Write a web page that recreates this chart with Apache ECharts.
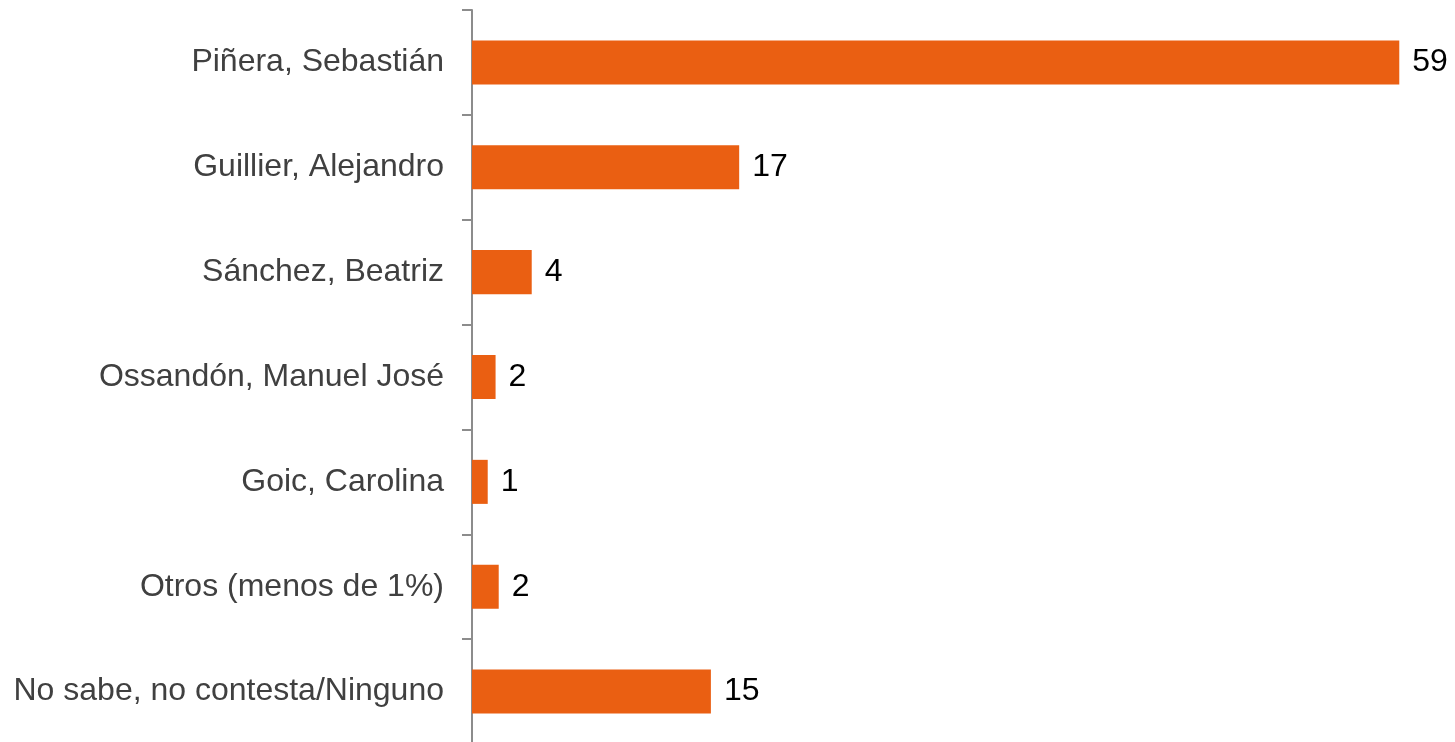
<!DOCTYPE html>
<html>
<head>
<meta charset="utf-8">
<script src="https://cdn.jsdelivr.net/npm/echarts@6/dist/echarts.min.js"></script>
<style>html,body{margin:0;padding:0;background:#fff;overflow:hidden;}#c{width:1455px;height:748px;}</style>
</head>
<body>
<div id="c"></div>
<script>
const categories = ["Piñera, Sebastián", "Guillier, Alejandro", "Sánchez, Beatriz", "Ossandón, Manuel José", "Goic, Carolina", "Otros (menos de 1%)", "No sabe, no contesta/Ninguno"];
const values = [59, 17, 3.8, 1.5, 1.0, 1.7, 15.2];
const labels = ["59", "17", "4", "2", "1", "2", "15"];

const chart = echarts.init(document.getElementById('c'));
chart.setOption({
  animation: false,
  grid: { left: 472, top: 10, width: 943, height: 734 },
  xAxis: { type: 'value', min: 0, max: 60, show: false },
  yAxis: {
    type: 'category', data: categories, inverse: true,
    axisLine: { show: true, lineStyle: { color: '#8c8c8c', width: 2 } },
    axisTick: { show: true, length: 10, lineStyle: { color: '#8c8c8c', width: 2 } },
    axisLabel: { color: '#404040', fontSize: 32, fontFamily: 'Liberation Sans, Arial, sans-serif', margin: 28 },
    splitLine: { show: false }
  },
  series: [{
    type: 'bar', data: values, barWidth: '42%',
    itemStyle: { color: '#EA5F12' },
    label: {
      show: true, position: 'right', distance: 13, color: '#000',
      fontSize: 32, fontFamily: 'Liberation Sans, Arial, sans-serif',
      formatter: p => labels[p.dataIndex]
    }
  }]
});
</script>
</body>
</html>
